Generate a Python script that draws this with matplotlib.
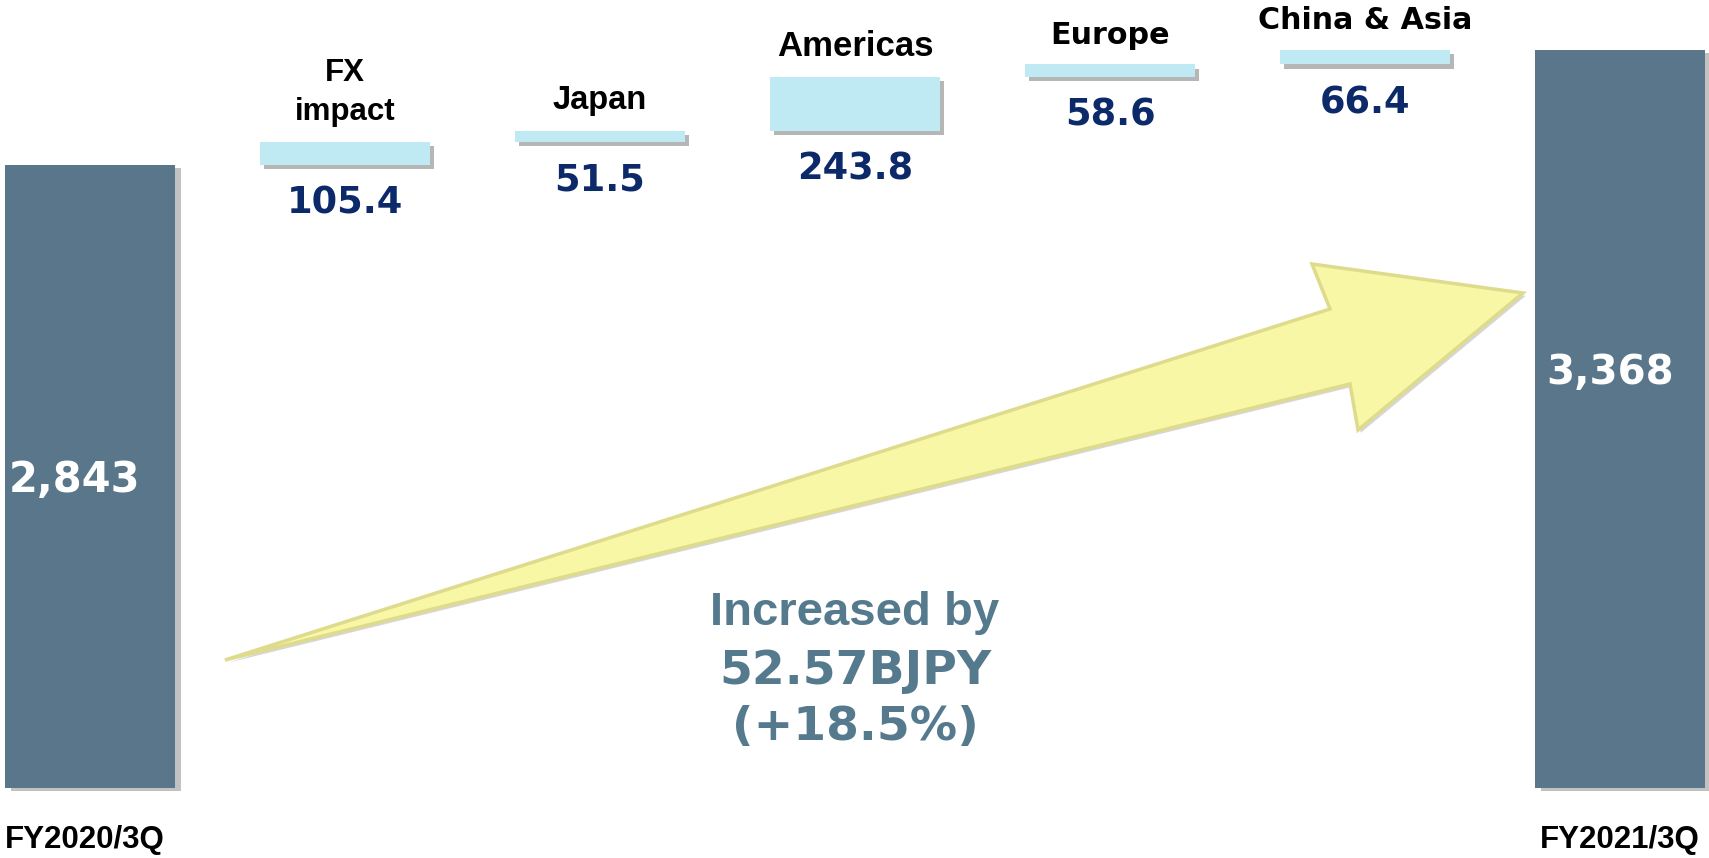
import matplotlib
matplotlib.use("Agg")
import matplotlib.pyplot as plt
import matplotlib.patheffects as pe
from matplotlib.patches import Polygon, Rectangle
import numpy as np

# Net sales bridge (100M JPY)
start_label = "FY2020/3Q"
end_label = "FY2021/3Q"
start_value = 2843
end_value = 3368
step_names = ["FX\nimpact", "Japan", "Americas", "Europe", "China & Asia"]
step_values = [105.4, 51.5, 243.8, 58.6, 66.4]
step_fonts = ["Liberation Sans", "Liberation Sans", "Liberation Sans", "DejaVu Sans", "DejaVu Sans"]
step_font_sizes = [22.5, 23.5, 25, 21.7, 21.7]

note_lines = ["Increased by", "52.57BJPY", "(+18.5%)"]

TOTAL_COLOR = "#59768a"
STEP_COLOR = "#c0eaf3"
VALUE_COLOR = "#0c2a6a"
NOTE_COLOR = "#557a8e"

W, H = 1709, 858
fig = plt.figure(figsize=(W / 100, H / 100), dpi=100)
ax = fig.add_axes([0, 0, 1, 1])
ax.axis("off")

# pixel scale: 255 px per category, 0.21913 px per unit, zero at y=788
k = 0.21913
ax.set_xlim(-90 / 255, (W - 90) / 255)
ax.set_ylim(-(H - 788) / k, 788 / k)

n = len(step_values)
x_steps = np.arange(1, n + 1)
bottoms = start_value + np.concatenate([[0], np.cumsum(step_values)[:-1]])

shadow = [pe.SimplePatchShadow(offset=(3, -3), shadow_rgbFace="#7a7a7a", alpha=0.55), pe.Normal()]

# totals
tot = ax.bar([0, n + 1], [start_value, end_value], width=0.667, color=TOTAL_COLOR)
for b in tot:
    b.set_path_effects([pe.SimplePatchShadow(offset=(4, -2), shadow_rgbFace="#9a9a9a", alpha=0.6), pe.Normal()])

# steps
steps = ax.bar(x_steps, step_values, bottom=bottoms, width=0.667, color=STEP_COLOR)
for b in steps:
    b.set_path_effects(shadow)

# total labels inside bars
ax.text(0 - 0.06, start_value * 0.494, f"{start_value:,}", color="white", fontsize=30,
        fontweight="bold", family="DejaVu Sans", ha="center", va="center")
ax.text(n + 1 - 0.04, end_value * 0.562, f"{end_value:,}", color="white", fontsize=29,
        fontweight="bold", family="DejaVu Sans", ha="center", va="center")

# step names above, values below
for x, b, v, name, fnt, fs in zip(x_steps, bottoms, step_values, step_names, step_fonts, step_font_sizes):
    ax.annotate(name, (x, b + v), xytext=(0, 10.5), textcoords="offset points",
                ha="center", va="bottom", fontsize=fs,
                fontweight="bold", family=fnt, color="black", linespacing=1.4)
    ax.annotate(f"{v}", (x, b), xytext=(0, -27.5), textcoords="offset points",
                ha="center", va="center", fontsize=26.5, fontweight="bold",
                family="DejaVu Sans", color=VALUE_COLOR)

# category labels at the bottom
xt = ax.get_xaxis_transform()
ax.text(0 - 0.02, 0.003, start_label, transform=xt, ha="center", va="bottom",
        fontsize=22.5, fontweight="bold", family="Liberation Sans", color="black")
ax.text(n + 1, 0.003, end_label, transform=xt, ha="center", va="bottom",
        fontsize=22.5, fontweight="bold", family="Liberation Sans", color="black")

# big yellow arrow (decoration, pixel layout)
arrow_px = [(225, 660), (1330, 309), (1312, 264), (1523, 293), (1358, 430), (1350, 384)]
arrow_xy = [(px / W, 1 - py / H) for px, py in arrow_px]
ax.add_patch(Polygon(arrow_xy, closed=True, transform=ax.transAxes, facecolor="#c9c46a",
                     edgecolor="#b9b35a", linewidth=1.0, zorder=3,
                     path_effects=[pe.SimplePatchShadow(offset=(2, -2), shadow_rgbFace="#999999", alpha=0.4), pe.Normal()]))
ax.add_patch(Polygon(arrow_xy, closed=True, transform=ax.transAxes, facecolor="#f7f7a6",
                     edgecolor="#dedb8c", linewidth=2.5, joinstyle="miter", zorder=3))

# increase note
ax.text(0.5003, 1 - 625 / H, note_lines[0], transform=ax.transAxes, ha="center", va="baseline",
        fontsize=34, fontweight="bold", family="Liberation Sans", color=NOTE_COLOR)
ax.text(0.5003, 1 - 684 / H, note_lines[1], transform=ax.transAxes, ha="center", va="baseline",
        fontsize=34, fontweight="bold", family="DejaVu Sans", color=NOTE_COLOR)
t3 = ax.text(0.5003, 1 - 740 / H, note_lines[2], transform=ax.transAxes, ha="center", va="baseline",
             fontsize=34, fontweight="bold", family="DejaVu Sans", color=NOTE_COLOR)
t3.set_clip_path(Rectangle((0, 1 - 742 / H), 1, 1, transform=ax.transAxes))

fig.savefig("out.png", dpi=100)
